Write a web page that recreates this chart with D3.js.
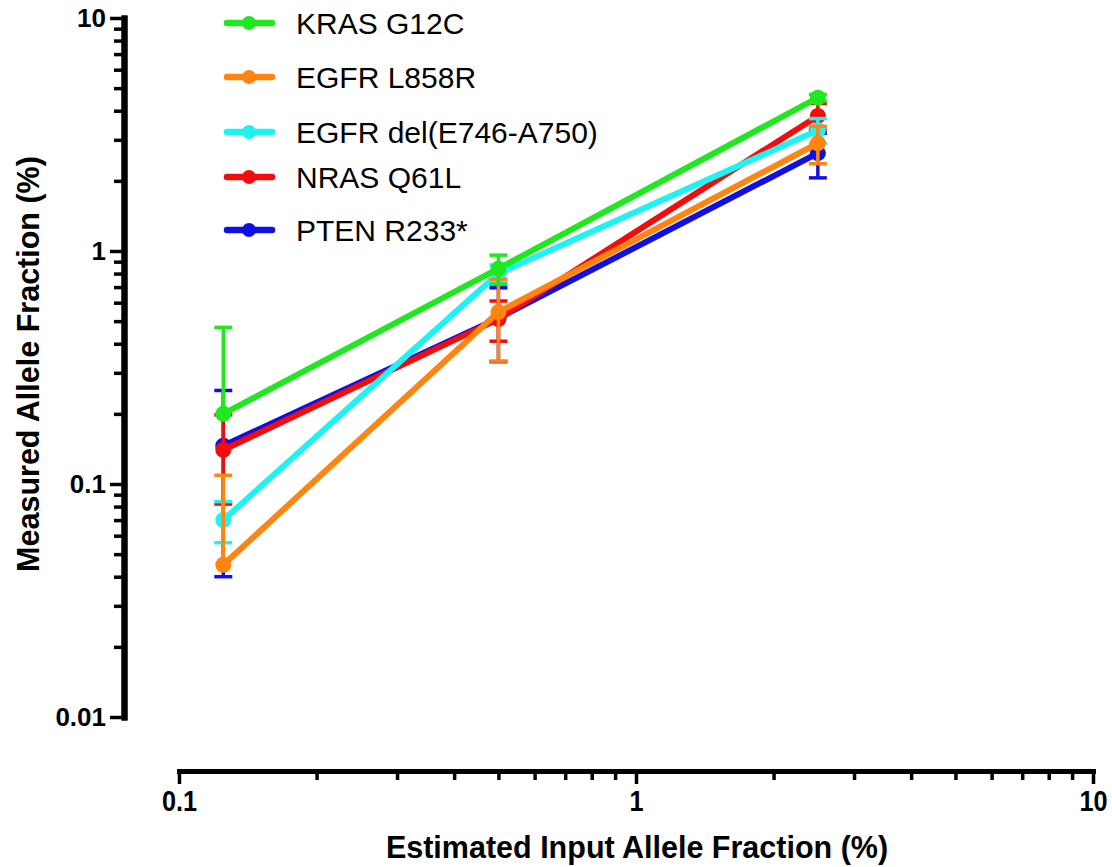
<!DOCTYPE html>
<html>
<head>
<meta charset="utf-8">
<script src="https://cdn.jsdelivr.net/npm/d3@7/dist/d3.min.js"></script>
<style>
  html, body { margin: 0; padding: 0; background: #fff; }
  svg { display: block; }
</style>
</head>
<body>
<svg id="chart" width="1112" height="867"></svg>
<script>
// Input allele fractions (%) tested
const inputFractions = [0.125, 0.5, 2.5];

// Series names and colours
const seriesNames = ["KRAS G12C", "EGFR L858R", "EGFR del(E746-A750)", "NRAS Q61L", "PTEN R233*"];
const seriesColors = ["#1fe81f", "#ff8410", "#1ff2f2", "#f20d0d", "#1010e6"];

// Measured allele fraction (%) mean per input level
const krasMean  = [0.20, 0.84, 4.55];
const l858rMean = [0.045, 0.547, 2.90];
const delMean   = [0.070, 0.80, 3.30];
const nrasMean  = [0.140, 0.51, 3.80];
const ptenMean  = [0.146, 0.515, 2.63];

// Standard deviation per input level
const krasSd  = [0.27, 0.12, 0.15];
const l858rSd = [0.064, 0.21, 0.53];
const delSd   = [0.014, 0.07, 0.40];
const nrasSd  = [0.058, 0.10, 0.50];
const ptenSd  = [0.106, 0.18, 0.57];

// Axis ticks
const xMajorTicks = [0.1, 1, 10];
const xMinorTicks = [0.2, 0.3, 0.4, 0.5, 0.6, 0.7, 0.8, 0.9, 2, 3, 4, 5, 6, 7, 8, 9];
const yMajorTicks = [0.01, 0.1, 1, 10];
const yMinorTicks = [0.02, 0.03, 0.04, 0.05, 0.06, 0.07, 0.08, 0.09,
                     0.2, 0.3, 0.4, 0.5, 0.6, 0.7, 0.8, 0.9,
                     2, 3, 4, 5, 6, 7, 8, 9];

const means = [krasMean, l858rMean, delMean, nrasMean, ptenMean];
const sds = [krasSd, l858rSd, delSd, nrasSd, ptenSd];

const series = seriesNames.map((name, i) => ({
  name,
  color: seriesColors[i],
  points: inputFractions.map((x, j) => ({ x, y: means[i][j], sd: sds[i][j] }))
}));

const svg = d3.select("#chart");

const x = d3.scaleLog().domain([0.1, 10]).range([179, 1093]);
const y = d3.scaleLog().domain([0.01, 10]).range([717, 18]);

const yAxisX = 124;
const xAxisY = 771;
const fontFamily = "'Liberation Sans', Arial, sans-serif";

// ---- Y axis ----
const yAxisMinor = d3.axisLeft(y).tickValues(yMinorTicks).tickSize(10).tickSizeOuter(0).tickFormat("");
const yAxisMajor = d3.axisLeft(y).tickValues(yMajorTicks).tickSize(14).tickSizeOuter(0)
  .tickPadding(4).tickFormat(d => d3.format("~g")(d));

const gyMinor = svg.append("g").attr("transform", `translate(${yAxisX},0)`).call(yAxisMinor);
const gyMajor = svg.append("g").attr("transform", `translate(${yAxisX},0)`).call(yAxisMajor);
[gyMinor, gyMajor].forEach(g => {
  g.select(".domain").attr("stroke", "#000").attr("stroke-width", 6).attr("stroke-linecap", "square");
  g.selectAll(".tick line").attr("stroke", "#000").attr("stroke-width", 3.5);
});
gyMajor.selectAll(".tick text")
  .attr("fill", "#000")
  .style("font-family", fontFamily)
  .style("font-weight", "bold")
  .style("font-size", "26px");

// ---- X axis ----
const xAxisMinor = d3.axisBottom(x).tickValues(xMinorTicks).tickSize(9).tickSizeOuter(0).tickFormat("");
const xAxisMajor = d3.axisBottom(x).tickValues(xMajorTicks).tickSize(13).tickSizeOuter(0)
  .tickPadding(6).tickFormat(d => d3.format("~g")(d));

const gxMinor = svg.append("g").attr("transform", `translate(0,${xAxisY})`).call(xAxisMinor);
const gxMajor = svg.append("g").attr("transform", `translate(0,${xAxisY})`).call(xAxisMajor);
[gxMinor, gxMajor].forEach(g => {
  g.select(".domain").attr("stroke", "#000").attr("stroke-width", 5).attr("stroke-linecap", "square");
  g.selectAll(".tick line").attr("stroke", "#000").attr("stroke-width", 3.5);
});
// tick labels are set in a slightly condensed bold face
gxMajor.selectAll(".tick text")
  .attr("fill", "#000")
  .attr("dy", "0.71em")
  .attr("transform", "scale(0.87,1)")
  .style("font-family", fontFamily)
  .style("font-weight", "bold")
  .style("font-size", "29px");

// ---- Axis titles ----
svg.append("text")
  .attr("x", 637)
  .attr("y", 858)
  .attr("text-anchor", "middle")
  .style("font-family", fontFamily)
  .style("font-weight", "bold")
  .style("font-size", "30.5px")
  .text("Estimated Input Allele Fraction (%)");

svg.append("text")
  .attr("transform", "translate(39,364) rotate(-90)")
  .attr("text-anchor", "middle")
  .style("font-family", fontFamily)
  .style("font-weight", "bold")
  .style("font-size", "30.5px")
  .text("Measured Allele Fraction (%)");

// ---- Data: drawn bottom-most series first ----
const drawOrder = [4, 3, 2, 1, 0];
const line = d3.line().x(d => x(d.x)).y(d => y(d.y));
const capHalf = 9;

drawOrder.forEach(i => {
  const s = series[i];
  const g = svg.append("g").attr("class", "series");

  // error bars (mean ± SD; lower part omitted when it falls below zero)
  s.points.forEach(p => {
    const cx = x(p.x);
    const hi = p.y + p.sd;
    const lo = p.y - p.sd;
    const yTop = y(hi);
    const yBot = lo > 0 ? y(lo) : y(p.y);
    g.append("line")
      .attr("x1", cx).attr("x2", cx).attr("y1", yTop).attr("y2", yBot)
      .attr("stroke", s.color).attr("stroke-width", 3.5);
    g.append("line")
      .attr("x1", cx - capHalf).attr("x2", cx + capHalf).attr("y1", yTop).attr("y2", yTop)
      .attr("stroke", s.color).attr("stroke-width", 3.5);
    if (lo > 0) {
      g.append("line")
        .attr("x1", cx - capHalf).attr("x2", cx + capHalf).attr("y1", yBot).attr("y2", yBot)
        .attr("stroke", s.color).attr("stroke-width", 3.5);
    }
  });

  g.append("path")
    .datum(s.points)
    .attr("d", line)
    .attr("fill", "none")
    .attr("stroke", s.color)
    .attr("stroke-width", 6)
    .attr("stroke-linejoin", "round");

  g.selectAll("circle")
    .data(s.points)
    .join("circle")
    .attr("cx", d => x(d.x))
    .attr("cy", d => y(d.y))
    .attr("r", 8)
    .attr("fill", s.color);
});

// ---- Legend ----
const legendRows = [23, 77, 132, 177, 230];
const legend = svg.append("g").attr("class", "legend");
series.forEach((s, i) => {
  const ly = legendRows[i];
  legend.append("line")
    .attr("x1", 227).attr("x2", 272).attr("y1", ly).attr("y2", ly)
    .attr("stroke", s.color).attr("stroke-width", 6.5).attr("stroke-linecap", "round");
  legend.append("circle")
    .attr("cx", 249).attr("cy", ly).attr("r", 7).attr("fill", s.color);
  legend.append("text")
    .attr("x", 296).attr("y", ly)
    .attr("dy", "0.36em")
    .style("font-family", fontFamily)
    .style("font-size", "30px")
    .attr("fill", "#000")
    .text(s.name);
});
</script>
</body>
</html>
